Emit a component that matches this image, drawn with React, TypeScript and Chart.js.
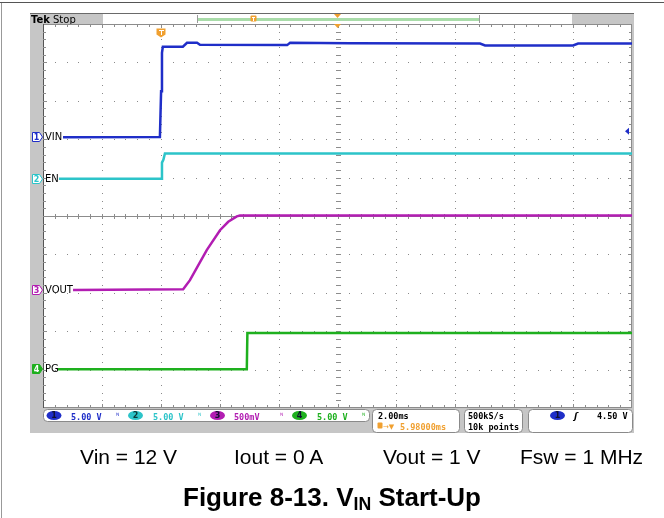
import React, { useEffect, useRef } from "react";
import { Chart, registerables } from "chart.js";

Chart.register(...registerables);

// ---------- screen setup ----------
const X_MIN = 0; // ms, left edge of screen
const X_MAX = 20; // ms, 10 div x 2.00 ms/div
const MS_PER_DIV = 2;
const X_DIVS = 10;
const Y_DIVS = 10;
const TRIGGER_MS = 4.02; // centre (10 ms) - 5.98 ms
const TRIGGER_ARROW_DIV = 7.21;

// ---------- channels ----------
const CH_NAMES = ["VIN", "EN", "VOUT", "PG"];
const CH_NUMBERS = ["1", "2", "3", "4"];
const CH_COLORS = ["#1f2ec8", "#2cc4c9", "#b21db2", "#1eb01e"];
const CH_VOLTS_PER_DIV = [5, 5, 0.5, 5];
const CH_SCALE_LABELS = ["5.00 V", "5.00 V", "500mV", "5.00 V"];
const CH_GROUND_DIV = [7.05, 5.97, 3.07, 1.01];

// ---------- waveforms (time in ms, value in volts) ----------
const VIN_T = [0.68, 3.97, 4.01, 4.04, 4.07, 4.75, 4.89, 5.23, 5.33, 8.29, 8.39, 10.42, 14.84, 15.01, 18.0, 18.17, 20];
const VIN_V = [0, 0.05, 6.0, 11.0, 11.8, 11.8, 12.3, 12.3, 12.05, 12.0, 12.3, 12.25, 12.2, 11.95, 11.95, 12.2, 12.2];

const EN_T = [0.54, 4.01, 4.04, 4.09, 4.14, 20];
const EN_V = [0, 0, 2.1, 2.5, 3.3, 3.3];

const VOUT_T = [1.02, 4.76, 4.99, 5.56, 6.01, 6.29, 6.58, 6.69, 20];
const VOUT_V = [0, 0.01, 0.13, 0.52, 0.78, 0.89, 0.96, 0.97, 0.97];

const PG_T = [0.51, 6.92, 6.94, 20];
const PG_V = [0, 0, 4.7, 4.7];

const SERIES_T = [VIN_T, EN_T, VOUT_T, PG_T];
const SERIES_V = [VIN_V, EN_V, VOUT_V, PG_V];

// ---------- readouts ----------
const TIMEBASE_LABEL = "2.00ms";
const DELAY_LABEL = "5.98000ms";
const RATE_LABEL = "500kS/s";
const POINTS_LABEL = "10k points";
const TRIG_LEVEL_LABEL = "4.50 V";
const CONDITIONS = ["Vin = 12 V", "Iout = 0 A", "Vout = 1 V", "Fsw = 1 MHz"];

const ORANGE = "#f0a030";
const MONO = "'DejaVu Sans Mono', monospace";
const SANS = "'DejaVu Sans', sans-serif";

function rr(ctx: CanvasRenderingContext2D, x: number, y: number, w: number, h: number, r: number, fill: string | null, stroke: string | null) {
  ctx.beginPath();
  (ctx as any).roundRect(x, y, w, h, r);
  if (fill) { ctx.fillStyle = fill; ctx.fill(); }
  if (stroke) { ctx.strokeStyle = stroke; ctx.lineWidth = 1; ctx.stroke(); }
}

function chanBadge(ctx: CanvasRenderingContext2D, cx: number, cy: number, color: string, num: string) {
  ctx.beginPath();
  ctx.ellipse(cx, cy, 7.5, 4.6, 0, 0, Math.PI * 2);
  ctx.fillStyle = color;
  ctx.fill();
  ctx.fillStyle = color === CH_COLORS[1] ? "#0a3a3a" : "#101030";
  ctx.font = `bold 8px ${SANS}`;
  ctx.textAlign = "center";
  ctx.textBaseline = "middle";
  ctx.fillText(num, cx, cy + 0.5);
  ctx.textAlign = "left";
  ctx.textBaseline = "alphabetic";
}

const scopePlugin = {
  id: "scope",
  beforeDraw(chart: any) {
    const ctx: CanvasRenderingContext2D = chart.ctx;
    const { left, right, top, bottom } = chart.chartArea;
    ctx.save();
    ctx.fillStyle = "#ffffff";
    ctx.fillRect(0, 0, chart.width, chart.height);
    // page frame
    ctx.fillStyle = "#555555";
    ctx.fillRect(0, 2, chart.width, 1);
    ctx.fillStyle = "#999999";
    ctx.fillRect(1, 3, 1, chart.height - 3);
    // scope body
    ctx.fillStyle = "#c6c6c6";
    ctx.fillRect(30, 13, 604, 420);
    ctx.fillStyle = "#6a6a6a";
    ctx.fillRect(30, 13, 604, 1);
    // top bar
    ctx.fillStyle = "#ffffff";
    ctx.fillRect(103, 14, 469, 10);
    ctx.fillStyle = "#a9dca9";
    ctx.fillRect(197, 18, 283, 3);
    ctx.fillStyle = "#9a9a9a";
    ctx.fillRect(197, 15, 1, 8);
    ctx.fillRect(479, 15, 1, 8);
    // record view trigger icon
    rr(ctx, 250.5, 15.5, 6, 6, 1, ORANGE, null);
    ctx.fillStyle = "#ffffff";
    ctx.fillRect(252, 17, 3, 1);
    ctx.fillRect(253, 17, 1, 4);
    // Tek Stop
    ctx.fillStyle = "#000000";
    ctx.font = `bold 10px ${SANS}`;
    ctx.fillText("Tek", 31, 23);
    ctx.font = `10px ${SANS}`;
    ctx.fillText("Stop", 53, 23);
    // plot background
    ctx.fillStyle = "#ffffff";
    ctx.fillRect(left, top, right - left, bottom - top);
    ctx.restore();
  },
  beforeDatasetsDraw(chart: any) {
    const ctx: CanvasRenderingContext2D = chart.ctx;
    const xs = chart.scales.x;
    const ys = chart.scales.y;
    const { left, right, top, bottom } = chart.chartArea;
    ctx.save();
    // dotted graticule
    ctx.fillStyle = "#8a8a8a";
    for (let i = 1; i < X_DIVS; i++) {
      if (i === X_DIVS / 2) continue;
      const gx = Math.round(xs.getPixelForValue(X_MIN + i * MS_PER_DIV));
      for (let j = 1; j < Y_DIVS * 5; j++) {
        const gy = Math.round(ys.getPixelForValue(j / 5));
        ctx.fillRect(gx, gy, 1, 1);
      }
    }
    for (let k = 1; k < Y_DIVS; k++) {
      if (k === Y_DIVS / 2) continue;
      const gy = Math.round(ys.getPixelForValue(k));
      for (let j = 1; j < X_DIVS * 5; j++) {
        const gx = Math.round(xs.getPixelForValue(X_MIN + (j * MS_PER_DIV) / 5));
        ctx.fillRect(gx, gy, 1, 1);
      }
    }
    // centre cross-hair
    const cx = Math.round(xs.getPixelForValue((X_MIN + X_MAX) / 2));
    const cy = Math.round(ys.getPixelForValue(Y_DIVS / 2));
    ctx.fillStyle = "#8c8c8c";
    ctx.fillRect(left, cy, right - left, 1);
    for (let j = 1; j < Y_DIVS * 5; j++) {
      const gy = Math.round(ys.getPixelForValue(j / 5));
      ctx.fillRect(cx, gy, 1, 1);
      ctx.fillRect(cx - 2, gy, 5, 1);
    }
    for (let j = 1; j < X_DIVS * 5; j++) {
      const gx = Math.round(xs.getPixelForValue(X_MIN + (j * MS_PER_DIV) / 5));
      ctx.fillRect(gx, cy - 2, 1, 5);
    }
    // border + ticks
    ctx.fillStyle = "#8c8c8c";
    ctx.fillRect(left, top, right - left, 1);
    ctx.fillRect(left, bottom - 1, right - left, 1);
    ctx.fillRect(right - 1, top, 1, bottom - top);
    ctx.fillStyle = "#555555";
    ctx.fillRect(left, top, 1, bottom - top);
    ctx.fillStyle = "#8c8c8c";
    for (let j = 1; j < X_DIVS * 5; j++) {
      const gx = Math.round(xs.getPixelForValue(X_MIN + (j * MS_PER_DIV) / 5));
      const len = j % 5 === 0 ? 4 : 3;
      ctx.fillRect(gx, top, 1, len);
      ctx.fillRect(gx, bottom - len, 1, len);
    }
    for (let j = 1; j < Y_DIVS * 5; j++) {
      const gy = Math.round(ys.getPixelForValue(j / 5));
      const len = j % 5 === 0 ? 4 : 3;
      ctx.fillRect(left, gy, len, 1);
      ctx.fillRect(right - len, gy, len, 1);
    }
    ctx.restore();
  },
  afterDatasetsDraw(chart: any) {
    const ctx: CanvasRenderingContext2D = chart.ctx;
    const xs = chart.scales.x;
    const ys = chart.scales.y;
    const { left, right, top, bottom } = chart.chartArea;
    ctx.save();
    // channel markers + labels
    for (let i = 0; i < CH_NAMES.length; i++) {
      const gy = Math.round(ys.getPixelForValue(CH_GROUND_DIV[i]));
      const col = CH_COLORS[i];
      const filled = i === 3;
      ctx.beginPath();
      ctx.moveTo(32.5, gy - 4.5);
      ctx.lineTo(39.5, gy - 4.5);
      ctx.lineTo(42.5, gy);
      ctx.lineTo(39.5, gy + 4.5);
      ctx.lineTo(32.5, gy + 4.5);
      ctx.closePath();
      ctx.fillStyle = filled ? col : "#ffffff";
      ctx.fill();
      ctx.strokeStyle = col;
      ctx.lineWidth = 1;
      ctx.stroke();
      ctx.fillStyle = filled ? "#ffffff" : col;
      ctx.font = `bold 8px ${SANS}`;
      ctx.textAlign = "center";
      ctx.textBaseline = "middle";
      ctx.fillText(CH_NUMBERS[i], 36.5, gy + 0.5);
      ctx.textAlign = "left";
      ctx.fillStyle = "#000000";
      ctx.font = `10px ${SANS}`;
      ctx.fillText(CH_NAMES[i], left + 2, gy + 0.5);
      ctx.textBaseline = "alphabetic";
    }
    // trigger position marker
    const tx = Math.round(xs.getPixelForValue(TRIGGER_MS));
    ctx.beginPath();
    ctx.moveTo(tx - 4.5, 28.5);
    ctx.lineTo(tx + 4.5, 28.5);
    ctx.lineTo(tx + 4.5, 34.5);
    ctx.lineTo(tx, 37.5);
    ctx.lineTo(tx - 4.5, 34.5);
    ctx.closePath();
    ctx.fillStyle = ORANGE;
    ctx.fill();
    ctx.fillStyle = "#ffffff";
    ctx.fillRect(tx - 2, 30, 5, 1);
    ctx.fillRect(tx, 30, 1, 5);
    // centre expansion markers
    const cx = xs.getPixelForValue((X_MIN + X_MAX) / 2);
    ctx.fillStyle = ORANGE;
    ctx.beginPath();
    ctx.moveTo(cx - 3.5, 14); ctx.lineTo(cx + 3.5, 14); ctx.lineTo(cx, 18); ctx.closePath(); ctx.fill();
    ctx.beginPath();
    ctx.moveTo(cx - 3.5, top); ctx.lineTo(cx + 3.5, top); ctx.lineTo(cx, top + 4); ctx.closePath(); ctx.fill();
    // trigger level arrow (right edge)
    const ay = ys.getPixelForValue(TRIGGER_ARROW_DIV);
    ctx.fillStyle = CH_COLORS[0];
    ctx.beginPath();
    ctx.moveTo(right - 7, ay); ctx.lineTo(right - 3, ay - 3.5); ctx.lineTo(right - 3, ay + 3.5); ctx.closePath(); ctx.fill();

    // ---- status bar ----
    ctx.fillStyle = "#c6c6c6";
    ctx.fillRect(30, bottom, 604, 433 - bottom);
    rr(ctx, 43.5, 409.5, 326, 12, 4, "#ffffff", "#8a8a8a");
    const badgeX = [54, 135.5, 217.5, 299.5];
    const textX = [71, 153, 234, 317];
    const iconX = [116, 198, 280, 362];
    for (let i = 0; i < 4; i++) {
      chanBadge(ctx, badgeX[i], 415.5, CH_COLORS[i], CH_NUMBERS[i]);
      ctx.fillStyle = CH_COLORS[i];
      ctx.font = `bold 8.5px ${MONO}`;
      ctx.fillText(CH_SCALE_LABELS[i], textX[i], 419.5);
      ctx.font = `7px ${SANS}`;
      ctx.fillText("\u1D3A", iconX[i], 418);
    }
    // timebase box
    rr(ctx, 372.5, 409.5, 87, 23, 4, "#ffffff", "#8a8a8a");
    ctx.fillStyle = "#000000";
    ctx.font = `bold 8.5px ${MONO}`;
    ctx.fillText(TIMEBASE_LABEL, 378, 418.5);
    rr(ctx, 377.5, 422.5, 5, 6, 1, ORANGE, null);
    ctx.fillStyle = ORANGE;
    ctx.font = `7px ${SANS}`;
    ctx.fillText("\u2192\u25BC", 383, 429);
    ctx.font = `bold 8.5px ${MONO}`;
    ctx.fillText(DELAY_LABEL, 400, 429.5);
    // sample box
    rr(ctx, 464.5, 409.5, 58, 23, 4, "#ffffff", "#8a8a8a");
    ctx.fillStyle = "#000000";
    ctx.fillText(RATE_LABEL, 468, 418.5);
    ctx.fillText(POINTS_LABEL, 468, 429.5);
    // trigger box
    rr(ctx, 528.5, 409.5, 104, 23, 4, "#ffffff", "#8a8a8a");
    chanBadge(ctx, 557.5, 415.5, CH_COLORS[0], CH_NUMBERS[0]);
    ctx.fillStyle = "#000000";
    ctx.font = `italic bold 9px ${SANS}`;
    ctx.fillText("\u0283", 574, 419);
    ctx.font = `bold 8.5px ${MONO}`;
    ctx.fillText(TRIG_LEVEL_LABEL, 597, 418.5);
    ctx.restore();
  },
};

export default function App() {
  const canvasRef = useRef<HTMLCanvasElement | null>(null);

  useEffect(() => {
    const canvas = canvasRef.current;
    if (!canvas) return;
    const datasets = SERIES_T.map((ts, i) => ({
      label: CH_NAMES[i],
      data: ts.map((t, k) => ({ x: t, y: CH_GROUND_DIV[i] + SERIES_V[i][k] / CH_VOLTS_PER_DIV[i] })),
      borderColor: CH_COLORS[i],
      backgroundColor: CH_COLORS[i],
      borderWidth: 2.5,
      pointRadius: 0,
      tension: 0,
      fill: false,
    }));
    const chart = new Chart(canvas, {
      type: "line",
      data: { datasets: datasets.slice().reverse() as any },
      options: {
        animation: false,
        responsive: false,
        devicePixelRatio: 1,
        layout: { padding: { left: 43, right: 32, top: 24, bottom: 110 } },
        scales: {
          x: { type: "linear", min: X_MIN, max: X_MAX, display: false },
          y: { type: "linear", min: 0, max: Y_DIVS, display: false },
        },
        plugins: { legend: { display: false }, tooltip: { enabled: false } },
        events: [],
      },
      plugins: [scopePlugin],
    });
    return () => chart.destroy();
  }, []);

  const capStyle: React.CSSProperties = {
    position: "absolute",
    top: 446,
    fontFamily: "'Liberation Sans', Arial, sans-serif",
    fontSize: 21,
    lineHeight: "21px",
    color: "#000",
    whiteSpace: "nowrap",
  };
  const capX = [80, 234, 383, 520];

  return (
    <div style={{ position: "absolute", left: 0, top: 0, width: 664, height: 518, background: "#fff" }}>
      <canvas ref={canvasRef} width={664} height={518} style={{ position: "absolute", left: 0, top: 0, width: 664, height: 518 }} />
      {CONDITIONS.map((c, i) => (
        <div key={c} style={{ ...capStyle, left: capX[i] }}>{c}</div>
      ))}
      <div
        style={{
          position: "absolute",
          left: 0,
          width: 664,
          top: 484,
          textAlign: "center",
          fontFamily: "'Liberation Sans', Arial, sans-serif",
          fontWeight: "bold",
          fontSize: 26,
          lineHeight: "26px",
          color: "#000",
          whiteSpace: "nowrap",
        }}
      >
        Figure 8-13. V<sub style={{ fontSize: "0.68em", verticalAlign: "-0.25em", lineHeight: 0 }}>IN</sub> Start-Up
      </div>
    </div>
  );
}
